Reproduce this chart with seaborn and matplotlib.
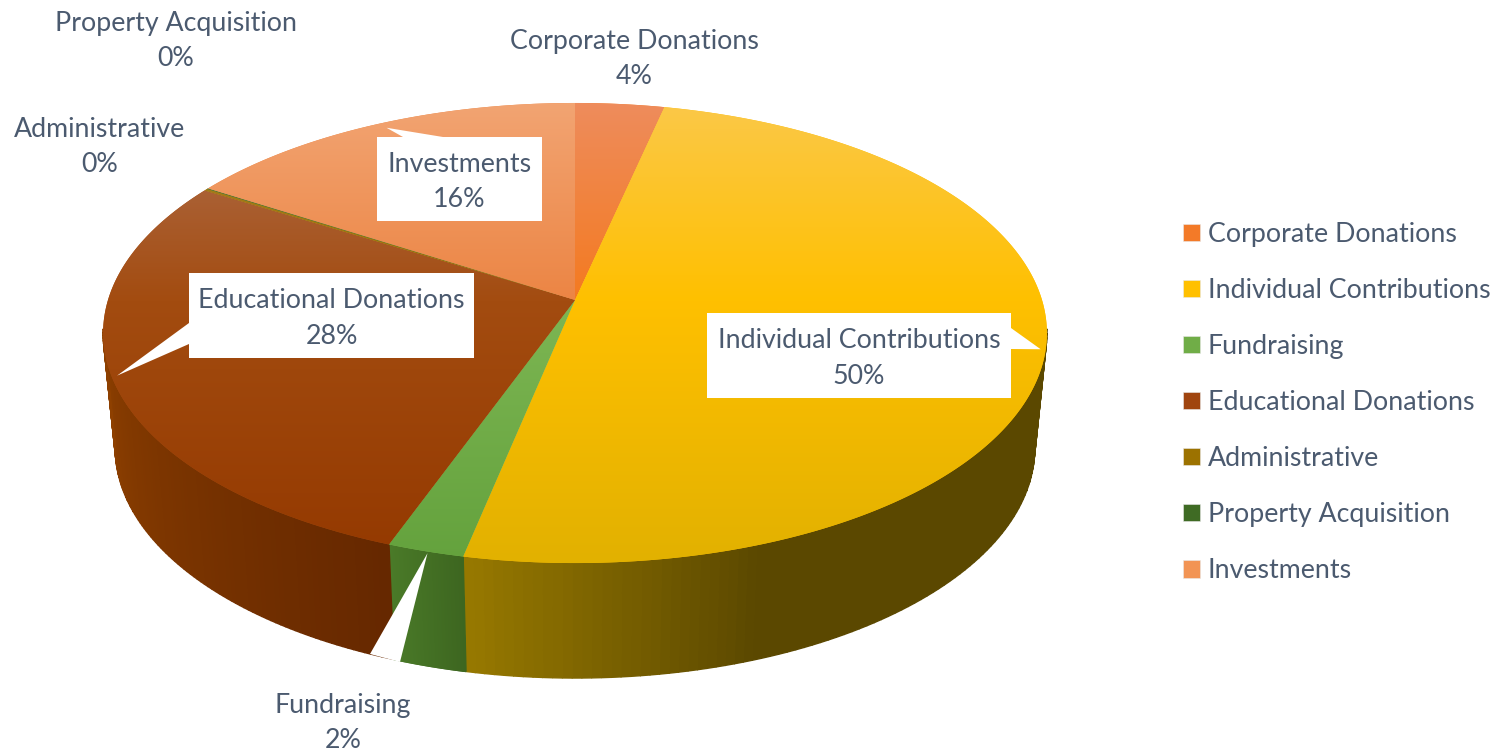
#!/usr/bin/python

'''
Funding sources as a tilted 3D pie
'''
import numpy as np
import seaborn as sns
from matplotlib import pyplot as plt
from matplotlib.colors import to_rgb
from matplotlib.patches import Patch, Polygon

# - data ----------------------------------------------------------------------
labels = ['Corporate Donations', 'Individual Contributions', 'Fundraising',
          'Educational Donations', 'Administrative', 'Property Acquisition',
          'Investments']
values = [3.5, 49.8, 2.3, 28.15, 0.15, 0.05, 16.05]

legend_colors = ['#F37A28', '#FFC000', '#70AD47', '#A0450F', '#9C7200', '#3F6B24',
                 '#F29454']
# face colour at the back, the middle and the front of the pie
face_colors = [['#EE8C5C', '#F47A20', '#F47A20'],
               ['#FBC848', '#FFC000', '#E2B100'],
               ['#8FC36C', '#7DB653', '#64A23D'],
               ['#B07050', '#A34C10', '#943900'],
               ['#A8812A', '#9C7200', '#8E6800'],
               ['#4E7A33', '#3F6B24', '#3A6520'],
               ['#F2A472', '#EC8544', '#EC8544']]
# side wall colour, clockwise along the visible part of the slice
wall_colors = {1: ['#5B4800', '#5B4800', '#5B4800', '#967800'],
               2: ['#3D6620', '#4A7A28'],
               3: ['#662800', '#7A3400', '#8E4000']}

text_color = '#4B5A6F'

# - projection ----------------------------------------------------------------
cx, cy = 575, 300
top_x, top_y = 467, 225.3
low_x, low_dy = 455, 115
tilt = 0.1435
visible = (0.27, 0.73)   # part of the circle that shows a wall

def rim(frac, wall=False):
    # fraction of the circle, clockwise from 12 o'clock, to a pixel position
    a = 2 * np.pi * np.asarray(frac)
    u, v = np.sin(a), np.cos(a)
    w = 1 + tilt * v
    if wall:
        return cx + low_x * u / w, cy + low_dy - top_y * v / w
    return cx + top_x * u / w, cy - top_y * v / w

# - run -----------------------------------------------------------------------
sns.set_theme(style='white')
plt.rcParams['font.family'] = ['Lato', 'DejaVu Sans']
font_size = 19.3
spacing = 1.5

fig = plt.figure(figsize=(14.93, 7.51), dpi=100)
ax = fig.add_axes([0, 0, 1, 1])

edges = np.concatenate([[0], np.cumsum(values)]) / np.sum(values)
mids = (edges[:-1] + edges[1:]) / 2

# walls, as thin strips so the shade can follow the rim
for i, stops in wall_colors.items():
    fr = np.linspace(max(edges[i], visible[0]), min(edges[i + 1], visible[1]), 91)
    pal = sns.blend_palette(stops, len(fr) - 1)
    tx, ty = rim(fr)
    bx, by = rim(fr, wall=True)
    for j in range(len(fr) - 1):
        ax.add_patch(Polygon([(tx[j], ty[j]), (tx[j + 1], ty[j + 1]),
                              (bx[j + 1], by[j + 1]), (bx[j], by[j])],
                             fc=pal[j], ec=pal[j], lw=1))

# top faces with a vertical gradient, clipped to each slice
ys = np.linspace(103, 563, 230)
for i, cols in enumerate(face_colors):
    rgb = np.array([to_rgb(c) for c in cols])
    grad = np.stack([np.interp(ys, [103, 300, 563], rgb[:, k]) for k in range(3)], axis=-1)
    fr = np.linspace(edges[i], edges[i + 1], max(int(values[i] * 8), 3))
    tx, ty = rim(fr)
    poly = Polygon(np.vstack([[cx, cy], np.column_stack([tx, ty])]), fc=cols[1], ec='none')
    ax.add_patch(poly)
    im = ax.imshow(grad[:, None, :], extent=(90, 1060, 563, 103), aspect='auto', zorder=2)
    im.set_clip_path(poly)

# callouts
boxes = {6: (377, 137, 542, 221, [(443, 137), (403, 137)], (12, 3)),
         3: (189, 273, 474, 358, [(189, 323), (189, 344)], (5, -2)),
         1: (707, 313, 1011, 398, [(1011, 328), (1011, 349)], (-5, 0))}
for i, (x0, y0, x1, y1, base, nudge) in boxes.items():
    tip = rim(mids[i])
    tip = (tip[0] + nudge[0], tip[1] + nudge[1])
    ax.add_patch(Polygon([(x0, y0), (x1, y0), (x1, y1), (x0, y1)], fc='white', ec='none', zorder=3))
    ax.add_patch(Polygon([tip] + base, fc='white', ec='none', zorder=3))
    ax.text((x0 + x1) / 2, (y0 + y1) / 2 + 3,
            f'{labels[i]}\n{values[i]:.0f}%', ha='center', va='center', color=text_color,
            fontsize=font_size, linespacing=spacing, zorder=4)

# fundraising has no box, only the white pointer running off the rim
tip = rim(mids[2])
ax.add_patch(Polygon([(tip[0] + 2, tip[1] + 2), (370, 654), (400, 662)],
                     fc='white', ec='none', zorder=3))

# plain labels outside the pie
outside = {0: (634, 59), 2: (343, 723), 4: (100, 147), 5: (176, 41)}
for i, (x, y) in outside.items():
    ax.text(x, y, f'{labels[i]}\n{values[i]:.0f}%', ha='center', va='center', color=text_color,
            fontsize=font_size, linespacing=spacing, zorder=4)

# legend
palette = sns.color_palette(legend_colors)
handles = [Patch(fc=c, ec='#E8E8E8', lw=0.4) for c in palette]
ax.legend(handles, labels, loc='center left', bbox_to_anchor=(1183 / 1493, 1 - 402.5 / 751),
          frameon=False, fontsize=font_size, labelcolor=text_color, labelspacing=1.16,
          handlelength=0.62, handleheight=0.62, handletextpad=0.3, borderpad=0, borderaxespad=0)

ax.set_xlim(0, 1493)
ax.set_ylim(751, 0)
ax.axis('off')
fig.savefig('out.png', dpi=100, facecolor='white')
